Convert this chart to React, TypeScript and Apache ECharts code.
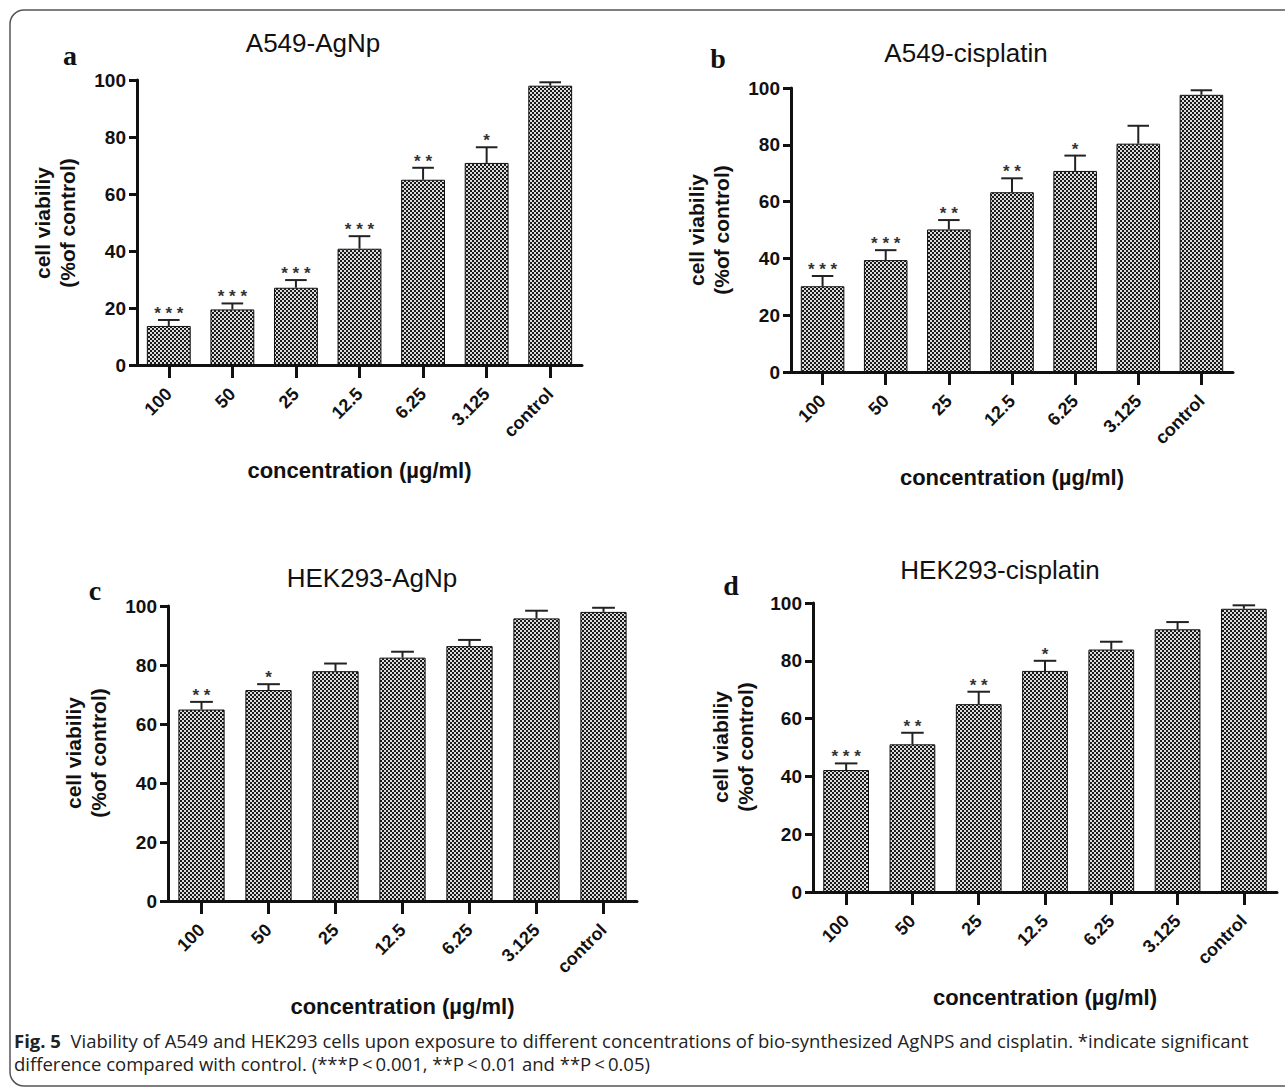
import React, { useEffect, useRef } from "react";
import * as echarts from "echarts";

// ---------- data ----------
const categories = ["100", "50", "25", "12.5", "6.25", "3.125", "control"];
const yMin = 0;
const yMax = 100;
const yStep = 20;

const titleA = "A549-AgNp";
const meanA = [13.7, 19.5, 27.1, 40.8, 65.0, 70.9, 98.0];
const sdA = [2.1, 2.1, 2.7, 4.4, 4.2, 5.5, 1.2];
const starsA = ["***", "***", "***", "***", "**", "*", ""];

const titleB = "A549-cisplatin";
const meanB = [30.2, 39.4, 50.2, 63.3, 70.8, 80.4, 97.6];
const sdB = [3.6, 3.5, 3.3, 4.9, 5.4, 6.3, 1.6];
const starsB = ["***", "***", "**", "**", "*", "", ""];

const titleC = "HEK293-AgNp";
const meanC = [64.9, 71.5, 77.9, 82.5, 86.4, 95.8, 98.0];
const sdC = [2.6, 2.0, 2.6, 2.0, 2.1, 2.6, 1.4];
const starsC = ["**", "*", "", "", "", "", ""];

const titleD = "HEK293-cisplatin";
const meanD = [42.2, 51.1, 65.0, 76.5, 83.9, 90.9, 98.0];
const sdD = [2.3, 4.0, 4.3, 3.5, 2.7, 2.5, 1.2];
const starsD = ["***", "**", "**", "*", "", "", ""];

const panelLetters = ["a", "b", "c", "d"];
const yAxisName = "cell viabiliy\n(%of control)";
const xAxisName = "concentration (µg/ml)";
const captionLine1 =
  "{b|Fig. 5}  Viability of A549 and HEK293 cells upon exposure to different concentrations of bio-synthesized AgNPS and cisplatin. *indicate significant";
const captionLine2 =
  "difference compared with control. (***P\u2009<\u20090.001, **P\u2009<\u20090.01 and **P\u2009<\u20090.05)";

// ---------- layout (positions only) ----------
const layouts = [
  { grid: { left: 137, top: 80, width: 445, height: 285 }, title: [313, 43], letter: [70, 55], yName: [55, 223] },
  { grid: { left: 791, top: 88, width: 442, height: 284 }, title: [966, 53], letter: [718, 58], yName: [709, 230] },
  { grid: { left: 168, top: 606, width: 469, height: 295 }, title: [372, 578], letter: [95, 590], yName: [86, 753] },
  { grid: { left: 813, top: 603, width: 464, height: 289 }, title: [1000, 570], letter: [731, 585], yName: [733, 747] },
];

const SANS = "'Liberation Sans', Arial, Helvetica, sans-serif";
const SERIF = "'Liberation Serif', 'Times New Roman', serif";
const CAPTION_FONT = "'Open Sans', 'Noto Sans', sans-serif";

function makePattern(): string {
  const c = document.createElement("canvas");
  c.width = 4;
  c.height = 4;
  const ctx = c.getContext("2d")!;
  ctx.fillStyle = "#dcdcdc";
  ctx.fillRect(0, 0, 4, 4);
  ctx.fillStyle = "#1a1a1a";
  ctx.fillRect(0, 0, 2, 2);
  ctx.fillRect(2, 2, 2, 2);
  return c.toDataURL();
}

export default function App() {
  const ref = useRef<HTMLDivElement>(null);

  useEffect(() => {
    document.body.style.margin = "0";
    if (!ref.current) return;
    const chart = echarts.init(ref.current, undefined, { renderer: "svg" });
    const pattern = makePattern();

    const panels = [
      { title: titleA, mean: meanA, sd: sdA, stars: starsA },
      { title: titleB, mean: meanB, sd: sdB, stars: starsB },
      { title: titleC, mean: meanC, sd: sdC, stars: starsC },
      { title: titleD, mean: meanD, sd: sdD, stars: starsD },
    ];

    const grids: any[] = [];
    const xAxes: any[] = [];
    const yAxes: any[] = [];
    const series: any[] = [];
    const graphics: any[] = [];

    graphics.push({
      type: "rect",
      silent: true,
      shape: { x: 10, y: 10, width: 1290, height: 1076, r: 14 },
      style: { fill: "none", stroke: "#555", lineWidth: 1.5 },
    });

    panels.forEach((p, k) => {
      const L = layouts[k];
      grids.push({ ...L.grid, containLabel: false });
      xAxes.push({
        type: "category",
        gridIndex: k,
        data: categories,
        name: xAxisName,
        nameLocation: "middle",
        nameGap: 94,
        nameTextStyle: { fontFamily: SANS, fontWeight: "bold", fontSize: 22, color: "#111" },
        axisLine: { show: true, lineStyle: { color: "#111", width: 3 } },
        axisTick: { show: true, alignWithLabel: true, length: 13, lineStyle: { color: "#111", width: 3 } },
        axisLabel: {
          rotate: 45,
          margin: 26,
          interval: 0,
          fontFamily: SANS,
          fontWeight: "bold",
          fontSize: 18,
          color: "#111",
        },
        splitLine: { show: false },
      });
      yAxes.push({
        type: "value",
        gridIndex: k,
        min: yMin,
        max: yMax,
        interval: yStep,
        axisLine: { show: true, lineStyle: { color: "#111", width: 3 } },
        axisTick: { show: true, length: 8, lineStyle: { color: "#111", width: 3 } },
        axisLabel: { margin: 11, fontFamily: SANS, fontWeight: "bold", fontSize: 19, color: "#111" },
        splitLine: { show: false },
      });
      series.push({
        type: "bar",
        xAxisIndex: k,
        yAxisIndex: k,
        data: p.mean,
        barCategoryGap: "31%",
        itemStyle: {
          color: { image: pattern, repeat: "repeat", imageWidth: 4, imageHeight: 4 },
          borderColor: "#111",
          borderWidth: 1,
        },
        z: 2,
      });
      const stars = p.stars;
      series.push({
        type: "custom",
        xAxisIndex: k,
        yAxisIndex: k,
        data: p.mean.map((m, i) => [i, m, p.sd[i]]),
        encode: { x: 0, y: 1 },
        clip: false,
        z: 5,
        renderItem: (params: any, api: any) => {
          const i = api.value(0);
          const m = api.value(1);
          const s = api.value(2);
          const base = api.coord([i, m]);
          const top = api.coord([i, m + s]);
          const bw = api.size([1, 0])[0];
          const half = bw * 0.17;
          const st = stars[params.dataIndex];
          const children: any[] = [
            {
              type: "line",
              shape: { x1: base[0], y1: base[1], x2: top[0], y2: top[1] },
              style: { stroke: "#222", lineWidth: 2 },
            },
            {
              type: "line",
              shape: { x1: top[0] - half, y1: top[1], x2: top[0] + half, y2: top[1] },
              style: { stroke: "#222", lineWidth: 2 },
            },
          ];
          if (st) {
            children.push({
              type: "text",
              style: {
                text: st.split("").join(" "),
                x: top[0],
                y: top[1] + 2,
                align: "center",
                verticalAlign: "bottom",
                fontFamily: SANS,
                fontWeight: "bold",
                fontSize: 17,
                fill: "#333",
              },
            });
          }
          return { type: "group", children };
        },
      });

      graphics.push({
        type: "text",
        silent: true,
        x: L.title[0],
        y: L.title[1],
        style: {
          text: p.title,
          align: "center",
          verticalAlign: "middle",
          fontFamily: SANS,
          fontSize: 26,
          fill: "#111",
        },
      });
      graphics.push({
        type: "text",
        silent: true,
        x: L.letter[0],
        y: L.letter[1],
        style: {
          text: panelLetters[k],
          align: "center",
          verticalAlign: "middle",
          fontFamily: SERIF,
          fontWeight: "bold",
          fontSize: 28,
          fill: "#111",
        },
      });
      graphics.push({
        type: "text",
        silent: true,
        x: L.yName[0],
        y: L.yName[1],
        rotation: Math.PI / 2,
        style: {
          text: yAxisName,
          align: "center",
          verticalAlign: "middle",
          fontFamily: SANS,
          fontWeight: "bold",
          fontSize: 21,
          lineHeight: 25,
          fill: "#111",
        },
      });
    });

    graphics.push({
      type: "text",
      silent: true,
      x: 14,
      y: 1040,
      style: {
        text: captionLine1,
        align: "left",
        verticalAlign: "middle",
        fontFamily: CAPTION_FONT,
        fontSize: 18.5,
        fill: "#222",
        rich: { b: { fontFamily: CAPTION_FONT, fontWeight: "bold", fontSize: 18.5, fill: "#222" } },
      },
    });
    graphics.push({
      type: "text",
      silent: true,
      x: 14,
      y: 1063,
      style: {
        text: captionLine2,
        align: "left",
        verticalAlign: "middle",
        fontFamily: CAPTION_FONT,
        fontSize: 18.5,
        fill: "#222",
      },
    });

    chart.setOption({
      animation: false,
      backgroundColor: "#ffffff",
      grid: grids,
      xAxis: xAxes,
      yAxis: yAxes,
      series,
      graphic: graphics,
    });

    return () => chart.dispose();
  }, []);

  return (
    <div
      ref={ref}
      style={{ position: "absolute", left: 0, top: 0, width: 1285, height: 1088 }}
    />
  );
}
